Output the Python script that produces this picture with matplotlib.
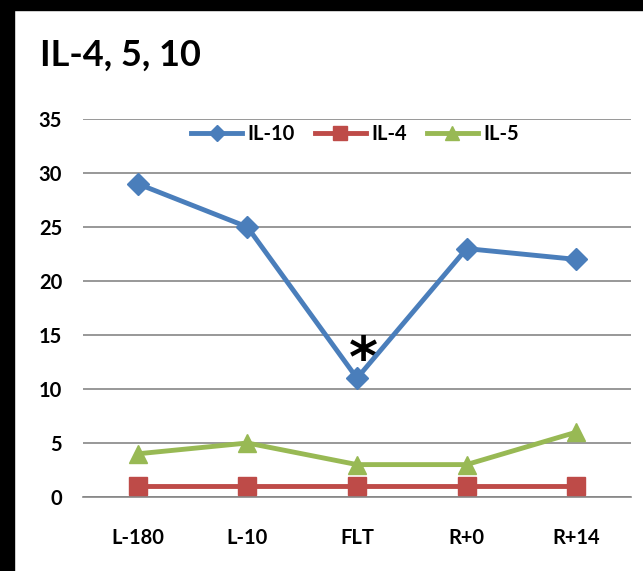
import matplotlib
matplotlib.use('Agg')
import matplotlib.pyplot as plt
import numpy as np

# data
categories = ['L-180', 'L-10', 'FLT', 'R+0', 'R+14']
il10 = [29, 25, 11, 23, 22]
il4 = [1, 1, 1, 1, 1]
il5 = [4, 5, 3, 3, 6]
y_ticks = [0, 5, 10, 15, 20, 25, 30, 35]

plt.rcParams['font.family'] = ['Lato', 'DejaVu Sans']

fig = plt.figure(figsize=(6.43, 5.71), dpi=100)
W, H = 643, 571

# black frame on the left and top edges
fig.patches.append(plt.Rectangle((0, 0), 14 / W, 1, transform=fig.transFigure,
                                 color='black', zorder=0))
fig.patches.append(plt.Rectangle((0, 1 - 10 / H), 1, 10 / H,
                                 transform=fig.transFigure, color='black', zorder=0))

ax = fig.add_axes([83 / W, 1 - 497 / H, (631 - 83) / W, (497 - 119) / H])
x = np.arange(len(categories))

ax.plot(x, il10, color='#4A7EBB', lw=3.5, marker='D', ms=11, label='IL-10', zorder=4)
ax.plot(x, il4, color='#BE4B48', lw=3.5, marker='s', ms=13, label='IL-4', zorder=3)
ax.plot(x, il5, color='#98B954', lw=3.5, marker='^', ms=13, label='IL-5', zorder=3)

ax.set_xlim(-0.5, len(categories) - 0.5)
ax.set_ylim(0, 35)
ax.set_yticks(y_ticks)
ax.set_xticks(x)
ax.set_xticklabels(categories)
ax.yaxis.grid(True, color='#868686', lw=1.2)
ax.set_axisbelow(True)
for s in ['left', 'right', 'top']:
    ax.spines[s].set_visible(False)
ax.spines['bottom'].set_color('#868686')
ax.spines['bottom'].set_linewidth(1.2)
ax.tick_params(length=0, labelsize=14.5)
ax.tick_params(axis='y', pad=15)
ax.tick_params(axis='x', pad=22)
for lab in ax.get_xticklabels() + ax.get_yticklabels():
    lab.set_fontweight('bold')

# significance mark above FLT
ax.text(2.06, 12.6, '*', fontsize=40, fontweight='bold', ha='center',
        va='center', family='DejaVu Sans')

leg = ax.legend(loc='upper center', bbox_to_anchor=(0.497, 1.035), ncol=3,
                frameon=False, fontsize=14.5, handlelength=2.5, columnspacing=1.0,
                handletextpad=0.3, markerscale=0.75)
for t in leg.get_texts():
    t.set_fontweight('bold')

fig.text(40 / W, 1 - 55 / H, 'IL-4, 5, 10', fontsize=26, fontweight='bold',
         va='center', ha='left')

fig.savefig('out.png', dpi=100, facecolor='white')
